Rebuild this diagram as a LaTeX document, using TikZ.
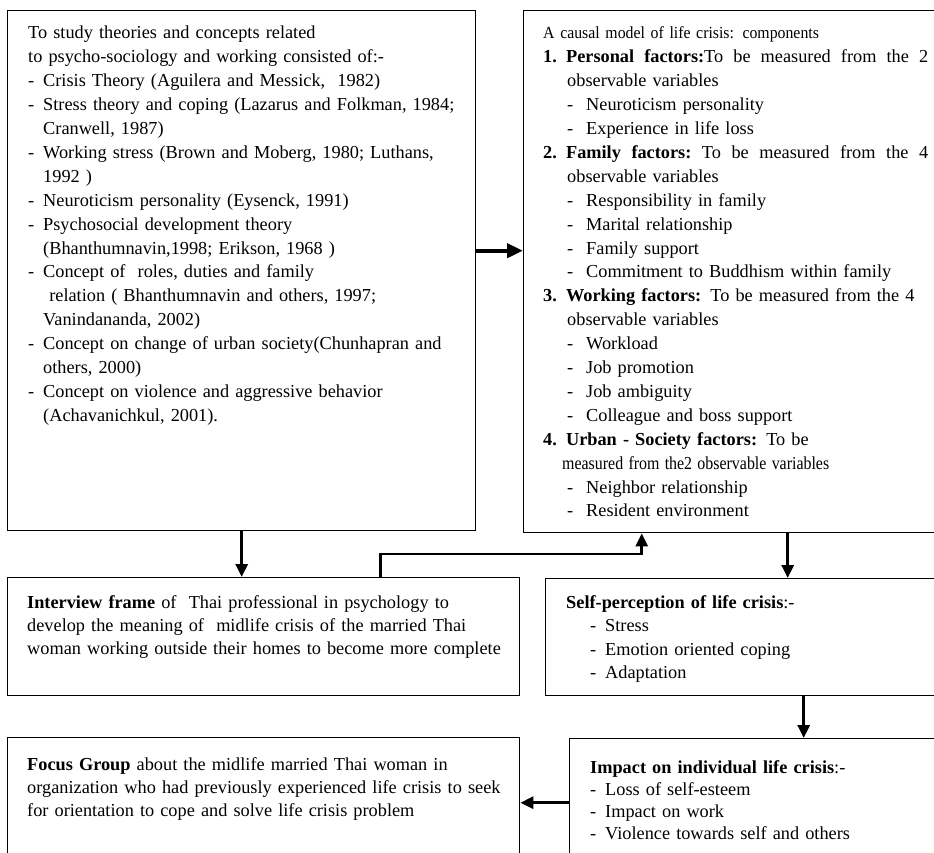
\documentclass[tikz,border=0pt]{standalone}
\usepackage{fontspec}
\setmainfont{Liberation Serif}
\usepackage{graphicx}
\usetikzlibrary{arrows.meta}

% list helpers
\newcommand\lbul{\makebox[15pt][l]{-}}
\newcommand\lind{\hspace*{15pt}}
\newcommand\rind{\hspace*{24pt}}
\newcommand\rbul{\hspace*{24pt}\makebox[19pt][l]{-}}
\newcommand\sbul{\hspace*{24pt}\makebox[15pt][l]{-}}
% a line spread over the full width of the component box
\newcommand\fullline[1]{\leavevmode\hbox to 385pt{#1}}

\tikzset{
  frame/.style={draw=black, line width=1.4pt, rectangle, inner sep=0pt, anchor=north west},
  txt/.style={inner sep=0pt, anchor=base west, align=left, text width=#1},
  body/.style={font=\fontsize{18.3}{23.9}\selectfont},
  link/.style={line width=3pt, -{Triangle[length=13pt,width=12pt]}},
}

\begin{document}
\begin{tikzpicture}[x=1pt, y=-1pt]
\clip (0,0) rectangle (934,853);
\fill[white] (0,0) rectangle (934,853);

% boxes
\node[frame, minimum width=468pt, minimum height=520pt] (A) at (7,10) {};
\node[frame, minimum width=440pt, minimum height=522pt] (B) at (523,10) {};
\node[frame, minimum width=512pt, minimum height=118pt] (I) at (7,577) {};
\node[frame, minimum width=420pt, minimum height=117pt] (S) at (545,578) {};
\node[frame, minimum width=512pt, minimum height=150pt] (F) at (7,737) {};
\node[frame, minimum width=400pt, minimum height=150pt] (P) at (569,738) {};

% theories and concepts
\node[txt=440pt, body] (At) at (28,39) {%
To study theories and concepts related\\
to psycho-sociology and working consisted of:-\\
\lbul Crisis Theory (Aguilera and Messick,\ \ 1982)\\
\lbul Stress theory and coping (Lazarus and Folkman, 1984;\\
\lind Cranwell, 1987)\\
\lbul Working stress (Brown and Moberg, 1980; Luthans,\\
\lind 1992 )\\
\lbul Neuroticism personality (Eysenck, 1991)\\
\lbul Psychosocial development theory\\
\lind (Bhanthumnavin,1998; Erikson, 1968 )\\
\lbul Concept of\ \ roles, duties and family\\
\lind\ relation ( Bhanthumnavin and others, 1997;\\
\lind Vanindananda, 2002)\\
\lbul Concept on change of urban society(Chunhapran and\\
\lind others, 2000)\\
\lbul Concept on violence and aggressive behavior\\
\lind (Achavanichkul, 2001).};

% causal model components
\node[txt=400pt, body] (Bt) at (543,39) {%
\scalebox{0.93}[1]{\fontsize{17}{23.9}\selectfont A causal model of life crisis: components}\\
\fullline{\textbf{1. Personal}\hfill\textbf{factors:}To\hfill be\hfill measured\hfill from\hfill the\hfill 2}\\
\rind observable variables\\
\rbul Neuroticism personality\\
\rbul Experience in life loss\\
\fullline{\textbf{2. Family}\hfill\textbf{factors:}\hfill To\hfill be\hfill measured\hfill from\hfill the\hfill 4}\\
\rind observable variables\\
\rbul Responsibility in family\\
\rbul Marital relationship\\
\rbul Family support\\
\rbul Commitment to Buddhism within family\\
\textbf{3. Working factors:} To be measured from the 4\\
\rind observable variables\\
\rbul Workload\\
\rbul Job promotion\\
\rbul Job ambiguity\\
\rbul Colleague and boss support\\
\textbf{4. Urban - Society factors:} To be\\
\hspace*{19pt}\scalebox{0.87}[1]{measured from the2 observable variables}\\
\rbul Neighbor relationship\\
\rbul Resident environment};

\node[txt=490pt, font=\fontsize{18.3}{23}\selectfont] (It) at (27,608) {%
\textbf{Interview frame} of\ \ Thai professional in psychology to\\
develop the meaning of\ \ midlife crisis of the married Thai\\
woman working outside their homes to become more complete};

\node[txt=360pt, font=\fontsize{18.3}{23.6}\selectfont] (St) at (566,608) {%
\textbf{Self-perception of life crisis}:-\\
\sbul Stress\\
\sbul Emotion oriented coping\\
\sbul Adaptation};

\node[txt=490pt, font=\fontsize{18.3}{23}\selectfont] (Ft) at (27,770) {%
\textbf{Focus Group} about the midlife married Thai woman in\\
organization who had previously experienced life crisis to seek\\
for orientation to cope and solve life crisis problem};

\node[txt=340pt, font=\fontsize{18.3}{22.3}\selectfont] (Pt) at (590,773) {%
\textbf{Impact on individual life crisis}:-\\
\makebox[15pt][l]{-}Loss of self-esteem\\
\makebox[15pt][l]{-}Impact on work\\
\makebox[15pt][l]{-}Violence towards self and others};

% connectors
\coordinate (ab) at ([yshift=20pt]A.east);
\draw[line width=4pt, -{Triangle[length=16pt,width=14pt]}] (ab) -- (ab -| B.west);

\draw[link] (A.south) -- (A.south |- I.north);

\coordinate (ib) at ([xshift=117pt]I.north);
\coordinate (bt) at ([xshift=-102pt]B.south);
\coordinate (jog) at (0,554);
\draw[link, line width=2.5pt] (ib) -- (ib |- jog) -- (bt |- jog) -- (bt);

\coordinate (bs) at ([xshift=44pt]B.south);
\draw[link] (bs) -- (bs |- S.north);

\coordinate (sp) at ([xshift=48pt]S.south);
\draw[link] (sp) -- (sp |- P.north);

\coordinate (pf) at ([yshift=11pt]P.west);
\draw[link] (pf) -- (pf -| F.east);
\end{tikzpicture}
\end{document}
